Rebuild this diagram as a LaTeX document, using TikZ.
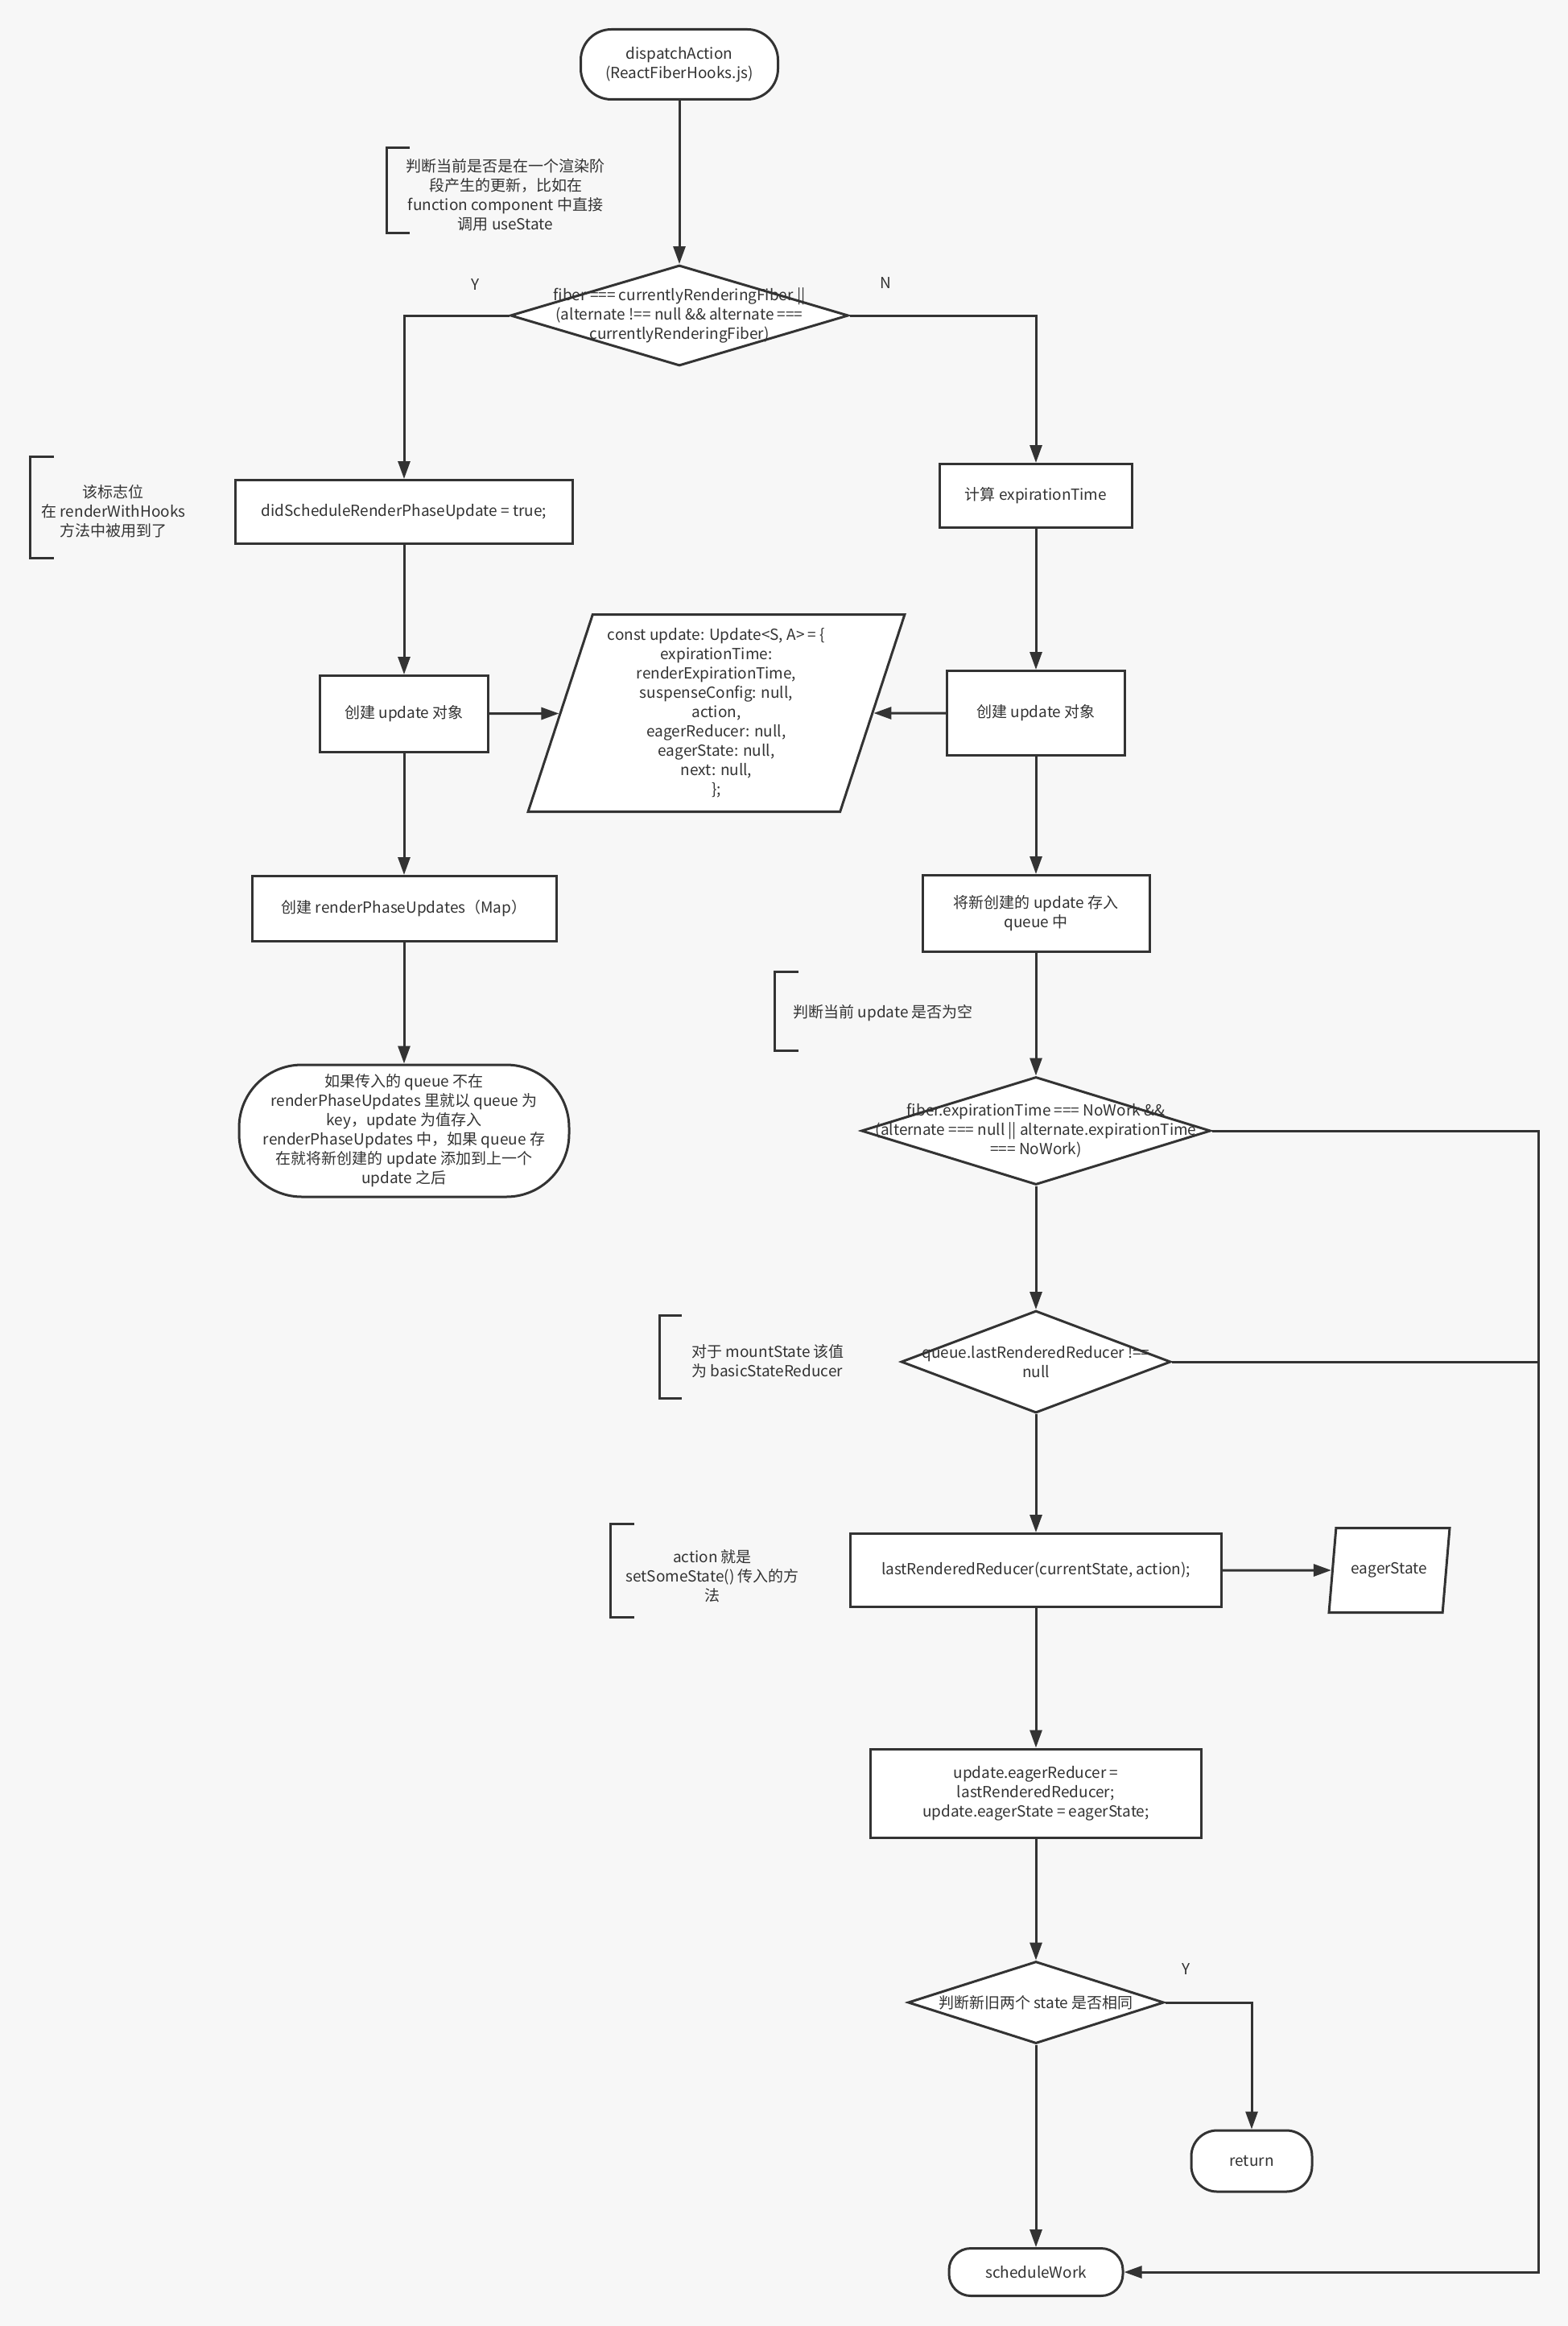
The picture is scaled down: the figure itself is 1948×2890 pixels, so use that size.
\documentclass[tikz,border=0pt]{standalone}
\usepackage{fontspec}
\setmainfont{Noto Sans CJK SC}
\usetikzlibrary{shapes.geometric,arrows.meta}
\definecolor{ink}{HTML}{333333}
\definecolor{paper}{HTML}{F7F7F7}
\begin{document}
\begin{tikzpicture}[
    x=1pt, y=-1pt,
    every node/.style={font=\fontsize{19}{24}\selectfont, text=ink},
    procbox/.style={rectangle, draw=ink, line width=3pt, fill=white, inner sep=0pt, align=center},
    termbox/.style={rectangle, rounded corners=38pt, draw=ink, line width=3pt, fill=white, inner sep=0pt, align=center},
    decision/.style={diamond, draw=ink, line width=3pt, fill=white, inner sep=0pt, aspect=2.5},
    iobox/.style={trapezium, trapezium left angle=71.5, trapezium right angle=108.5, trapezium stretches=true,
        draw=ink, line width=3pt, fill=white, inner sep=0pt, align=center},
    note/.style={align=center},
    brk/.style={draw=ink, line width=3pt},
    arr/.style={draw=ink, line width=3pt, -{Triangle[length=22pt, width=15pt]}},
    wire/.style={draw=ink, line width=3pt}
]
    \fill[paper] (0,0) rectangle (1948,2890);
    \useasboundingbox (0,0) rectangle (1948,2890);

    % main nodes
    \node[termbox, minimum width=245pt, minimum height=87pt] at (844,80) (start) {dispatchAction\\(ReactFiberHooks.js)};
    \node[decision, minimum width=420pt, minimum height=125pt,
        label={[align=center, text=ink]center:fiber === currentlyRenderingFiber ||\\(alternate !== null \&\& alternate ===\\currentlyRenderingFiber)}]
        at (844,392) (d1) {};

    \node[procbox, minimum width=419pt, minimum height=79pt] at (502,636) (flag) {didScheduleRenderPhaseUpdate = true;};
    \node[procbox, minimum width=209pt, minimum height=95pt] at (502,887) (mkL) {创建 update 对象};
    \node[procbox, minimum width=378pt, minimum height=81pt] at (502,1129) (mapL) {创建 renderPhaseUpdates（Map）};
    \node[termbox, rounded corners=78pt, minimum width=410pt, minimum height=164pt] at (502,1405) (endL) {如果传入的 queue 不在\\renderPhaseUpdates 里就以 queue 为\\key，update 为值存入\\renderPhaseUpdates 中，如果 queue 存\\在就将新创建的 update 添加到上一个\\update 之后};

    \node[iobox, minimum width=469pt, minimum height=245pt] at (890,886) (upd) {const update: Update<S, A> = \{\\expirationTime:\\renderExpirationTime,\\suspenseConfig: null,\\action,\\eagerReducer: null,\\eagerState: null,\\next: null,\\\};};

    \node[procbox, minimum width=239pt, minimum height=79pt] at (1287,616) (calc) {计算 expirationTime};
    \node[procbox, minimum width=221pt, minimum height=105pt] at (1287,886) (mkR) {创建 update 对象};
    \node[procbox, minimum width=282pt, minimum height=95pt] at (1287,1135) (store) {将新创建的 update 存入\\queue 中};
    \node[decision, minimum width=434pt, minimum height=134pt,
        label={[align=center, text=ink]center:fiber.expirationTime === NoWork \&\&\\(alternate === null || alternate.expirationTime\\=== NoWork)}]
        at (1287,1405) (d2) {};
    \node[decision, minimum width=335pt, minimum height=127pt,
        label={[align=center, text=ink]center:queue.lastRenderedReducer !==\\null}]
        at (1287,1692) (d3) {};
    \node[procbox, minimum width=461pt, minimum height=91pt] at (1287,1951) (reduce) {lastRenderedReducer(currentState, action);};
    \node[iobox, minimum width=150pt, minimum height=105pt] at (1726,1951) (eager) {eagerState};
    \node[procbox, minimum width=411pt, minimum height=110pt] at (1287,2228) (assign) {update.eagerReducer =\\lastRenderedReducer;\\update.eagerState = eagerState;};
    \node[decision, minimum width=318pt, minimum height=102pt,
        label={[align=center, text=ink]center:判断新旧两个 state 是否相同}]
        at (1287,2488) (d4) {};
    \node[termbox, rounded corners=32pt, minimum width=150pt, minimum height=76pt] at (1555,2685) (ret) {return};
    \node[termbox, rounded corners=27pt, minimum width=216pt, minimum height=59pt] at (1287,2823) (work) {scheduleWork};

    % branch labels
    \node at (591,354) (yes1) {Y};
    \node at (1100,352) (no1) {N};
    \node at (1474,2447) (yes4) {Y};

    % comments
    \draw[brk] (509,184) -- (480,184) -- (480,289) -- (509,289);
    \node[note] at (628,242) (c1) {判断当前是否是在一个渲染阶\\段产生的更新，比如在\\function component 中直接\\调用 useState};
    \draw[brk] (67,567) -- (37,567) -- (37,693) -- (67,693);
    \node[note] at (141,635) (c2) {该标志位\\在 renderWithHooks\\方法中被用到了};
    \draw[brk] (992,1207) -- (962,1207) -- (962,1305) -- (992,1305);
    \node[anchor=west] at (982,1259) (c3) {判断当前 update 是否为空};
    \draw[brk] (847,1634) -- (819,1634) -- (819,1737) -- (847,1737);
    \node[align=left, anchor=west] at (856,1691) (c4) {对于 mountState 该值\\为 basicStateReducer};
    \draw[brk] (788,1893) -- (758,1893) -- (758,2009) -- (788,2009);
    \node[note] at (885,1958) (c5) {action 就是\\setSomeState() 传入的方\\法};

    \coordinate (rail) at (1911,1405);
    \coordinate (railB) at (1911,1692);

    % connectors
    \draw[arr] (start) -- (d1);
    \draw[arr] (d1.west) -| (flag);
    \draw[arr] (d1.east) -| (calc);
    \draw[arr] (flag) -- (mkL);
    \draw[arr] (mkL) -- (mapL);
    \draw[arr] (mapL) -- (endL);
    \draw[arr] (mkL) -- (upd);
    \draw[arr] (mkR) -- (upd);
    \draw[arr] (calc) -- (mkR);
    \draw[arr] (mkR) -- (store);
    \draw[arr] (store) -- (d2);
    \draw[arr] (d2) -- (d3);
    \draw[arr] (d3) -- (reduce);
    \draw[arr] (reduce) -- (eager);
    \draw[arr] (reduce) -- (assign);
    \draw[arr] (assign) -- (d4);
    \draw[arr] (d4) -- (work);
    \draw[arr] (d4.east) -| (ret);
    \draw[arr] (d2.east) -- (rail) |- (work.east);
    \draw[wire] (d3.east) -- (railB);
\end{tikzpicture}
\end{document}
